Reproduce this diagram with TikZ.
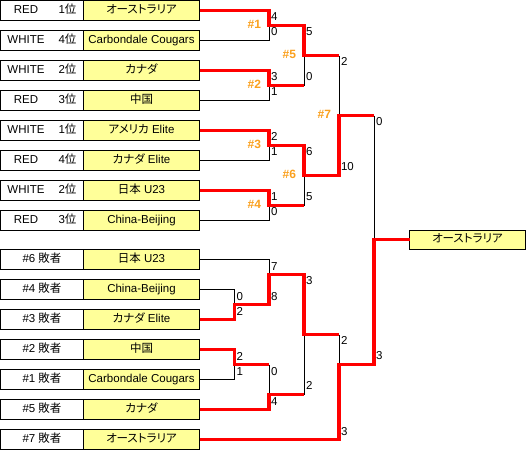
\documentclass[tikz,border=0pt]{standalone}
\usepackage{fontspec}
\setmainfont{Liberation Sans}
\newfontfamily\jp[RawFeature={+palt}]{Noto Sans CJK JP}
\definecolor{boxyellow}{RGB}{255,255,153}
\definecolor{mlabel}{RGB}{250,160,30}
\definecolor{winred}{RGB}{255,0,0}
\tikzset{
  basetxt/.style={inner sep=0pt, outer sep=0pt, font=\fontsize{11.5}{12}\selectfont, text height=8.5pt, text depth=2.5pt},
  lblbox/.style={draw=black, line width=1pt, fill=white, minimum width=83pt, minimum height=20pt, inner sep=0pt, outer sep=0pt},
  teambox/.style={basetxt, draw=black, line width=1pt, fill=boxyellow, minimum width=116pt, minimum height=20pt},
  score/.style={basetxt, anchor=west},
  mlab/.style={basetxt, anchor=east, text=mlabel, font=\fontsize{12}{12}\bfseries\selectfont},
  lose/.style={draw=black, line width=1pt},
  win/.style={draw=winred, line width=3.5pt, line join=miter},
}
\begin{document}
\begin{tikzpicture}[x=1pt,y=-1pt]
\useasboundingbox (0,0) rectangle (526,450);
% ---------- upper bracket boxes ----------
\foreach \i/\col/\rk/\team in {
  1/RED/1/{{\jp オーストラリア}},
  2/WHITE/4/{Carbondale Cougars},
  3/WHITE/2/{{\jp カナダ}},
  4/RED/3/{{\jp 中国}},
  5/WHITE/1/{{\jp アメリカ} Elite},
  6/RED/4/{{\jp カナダ} Elite},
  7/WHITE/2/{{\jp 日本} U23},
  8/RED/3/{China-Beijing}}{
  \pgfmathsetmacro{\yy}{10.5+30*(\i-1)}
  \node[lblbox] (l\i) at (42,\yy) {};
  \node[teambox] (t\i) at (141.5,\yy) {\team};
  \node[basetxt] (c\i) at (26,\yy) {\col};
  \node[basetxt] (r\i) at (67.5,\yy) {\rk{\jp 位}};
}
% ---------- lower bracket boxes ----------
\foreach \i/\n/\team in {
  6/6/{{\jp 日本} U23},
  4/7/{China-Beijing},
  3/8/{{\jp カナダ} Elite},
  2/9/{{\jp 中国}},
  1/10/{Carbondale Cougars},
  5/11/{{\jp カナダ}},
  7/12/{{\jp オーストラリア}}}{
  \pgfmathsetmacro{\yy}{259.5+30*(\n-6)}
  \node[lblbox] (ul\i) at (42,\yy) {};
  \node[basetxt] (uc\i) at (42,\yy) {\#\i\ {\jp 敗者}};
  \node[teambox] (u\i) at (141.5,\yy) {\team};
}
% final
\node[teambox, minimum height=19pt] (f) at (467.5,239.5) {{\jp オーストラリア}};
% ---------- junctions ----------
\coordinate (j1) at (269,25.5);
\coordinate (j2) at (269,85.5);
\coordinate (j3) at (269,145.5);
\coordinate (j4) at (269,205.5);
\coordinate (j5) at (304,55.5);
\coordinate (j6) at (304,175.5);
\coordinate (j7) at (339,115.5);
\coordinate (jF) at (374,239.5);
\coordinate (k1) at (234.5,304.5);
\coordinate (k2) at (269,274.5);
\coordinate (k3) at (234.5,364.5);
\coordinate (k4) at (269,394.5);
\coordinate (k5) at (304,334.5);
\coordinate (k6) at (339,364.5);
% ---------- black (losing) lines ----------
\draw[lose] (t2.east) -| (j1);
\draw[lose] (t4.east) -| (j2);
\draw[lose] (t6.east) -| (j3);
\draw[lose] (t8.east) -| (j4);
\draw[lose] (j2 -| j5) -- (j5);
\draw[lose] (j4 -| j6) -- (j6);
\draw[lose] (j5 -| j7) -- (j7);
\draw[lose] (j7 -| jF) -- (jF);
\draw[lose] (u4.east) -| (k1);
\draw[lose] (u6.east) -| (k2);
\draw[lose] (u1.east) -| (k3);
\draw[lose] (k3 -| k4) -- (k4);
\draw[lose] (k4 -| k5) -- (k5);
\draw[lose] (k5 -| k6) -- (k6);
% ---------- red (winning) lines ----------
\draw[win] (t1.east) -| (j1) -| (j5) -- (j5 -| j7);
\draw[win] (t3.east) -| (j2) -- (j2 -| j5);
\draw[win] (t5.east) -| (j3) -| (j6) -| (j7) -- (j7 -| jF);
\draw[win] (t7.east) -| (j4) -- (j4 -| j6);
\draw[win] (u3.east) -| (k1) -| (k2) -| (k5) -- (k5 -| k6);
\draw[win] (u2.east) -| (k3) -- (k3 -| k4);
\draw[win] (u5.east) -| (k4) -- (k4 -| k5);
\draw[win] (u7.east) -| (k6) -| (jF) -- (f.west);
% ---------- match labels ----------
\node[mlab] (m1) at (261,25.5) {\#1};
\node[mlab] (m2) at (261,85.5) {\#2};
\node[mlab] (m3) at (261,145.5) {\#3};
\node[mlab] (m4) at (261,205.5) {\#4};
\node[mlab] (m5) at (296,55.5) {\#5};
\node[mlab] (m6) at (296,175.5) {\#6};
\node[mlab] (m7) at (331,115.5) {\#7};
% ---------- scores ----------
\foreach \x/\y/\s [count=\n] in {
  271/17.5/4, 271/32.5/0,
  271/77.5/3, 271/92.5/1,
  271/137.5/2, 271/152.5/1,
  271/197.5/1, 271/212.5/0,
  306/32.5/5, 306/77.5/0,
  306/152.5/6, 306/197.5/5,
  341/62.5/2, 341/167.5/10,
  376/122.5/0, 376/356.5/3,
  236.5/297/0, 236.5/312/2,
  271/267/7, 271/297/8,
  236.5/357/2, 236.5/372/1,
  271/372/0, 271/402/4,
  306/281.5/3, 306/386.5/2,
  341/341.5/2, 341/432/3}{
  \node[score] (s\n) at (\x,\y) {\s};
}
\end{tikzpicture}
\end{document}
